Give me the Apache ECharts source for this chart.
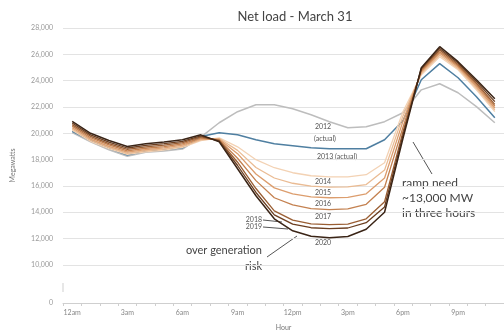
<!DOCTYPE html>
<html><head><meta charset="utf-8">
<script src="https://cdn.jsdelivr.net/npm/echarts@6/dist/echarts.min.js"></script>
<style>html,body{margin:0;padding:0;background:#fff}#c{width:504px;height:336px}</style>
</head><body><div id="c"></div>
<script>
const hours = ['12am','1am','2am','3am','4am','5am','6am','7am','8am','9am','10am','11am','12pm','1pm','2pm','3pm','4pm','5pm','6pm','7pm','8pm','9pm','10pm','11pm'];
const hourTickLabels = ['12am','3am','6am','9am','12pm','3pm','6pm','9pm'];
const yTickValues = [10000,12000,14000,16000,18000,20000,22000,24000,26000,28000];
const yZeroValue = 7100;

const y2012 = [20050,19350,18750,18250,18550,18650,18800,19700,20800,21640,22170,22170,21860,21410,20880,20420,20500,20880,21560,23300,23760,23080,22020,20800];
const y2013 = [20150,19450,18850,18350,18650,18750,18900,19750,20040,19890,19510,19200,19050,18900,18820,18820,18820,19510,20950,24070,25290,24220,22780,21180];
const y2014 = [20230,19390,18840,18390,18590,18720,18930,19440,19650,18970,17990,17380,17000,16770,16690,16690,16850,17760,21640,24450,25820,24830,23310,21640];
const y2015 = [20320,19470,18920,18470,18670,18800,19010,19500,19600,18700,17400,16600,16200,15980,15900,15920,16100,17200,21300,24550,25950,24930,23430,21780];
const y2016 = [20420,19560,19010,18560,18760,18890,19100,19570,19550,18450,16900,15850,15400,15170,15100,15130,15400,16600,20900,24650,26080,25030,23550,21920];
const y2017 = [20540,19660,19110,18660,18860,18990,19190,19640,19500,18100,16400,15100,14550,14280,14200,14250,14600,15900,20450,24750,26200,25130,23680,22060];
const y2018 = [20660,19770,19220,18770,18970,19100,19290,19720,19450,17800,15800,14100,13400,13120,13050,13100,13500,14800,20100,24850,26330,25230,23800,22200];
const y2019 = [20780,19880,19330,18880,19080,19210,19390,19800,19400,17550,15500,13800,13100,12820,12750,12800,13200,14400,19850,24920,26450,25340,23940,22400];
const y2020 = [20900,20000,19450,19000,19200,19330,19500,19880,19350,17300,15250,13500,12590,12170,12050,12150,12700,14000,19600,24980,26580,25440,24070,22620];

const seriesDefs = [
  ['2012', y2012, '#bdbdbd', 1.5],
  ['2013', y2013, '#4f7fa1', 1.5],
  ['2014', y2014, '#f3d2b4', 1.3],
  ['2015', y2015, '#eabb93', 1.3],
  ['2016', y2016, '#dc9d6d', 1.3],
  ['2017', y2017, '#c48150', 1.3],
  ['2018', y2018, '#9a5e33', 1.3],
  ['2019', y2019, '#6b3e20', 1.3],
  ['2020', y2020, '#3a2416', 1.5]
];

const FONT = 'Lato';
const chart = echarts.init(document.getElementById('c'), null, {renderer:'canvas'});
function txt(x, y, s, size, align, color) {
  return {type:'text', x:x, y:y, style:{text:s, fontSize:size, fontFamily:FONT, fill:color||'#555', align:align||'left', verticalAlign:'middle'}};
}
function ln(x1,y1,x2,y2){
  return {type:'line', shape:{x1:x1,y1:y1,x2:x2,y2:y2}, style:{stroke:'#555', lineWidth:1}};
}
chart.setOption({
  animation:false,
  title:{text:'Net load - March 31', left:290, top:5, textAlign:'center',
    textStyle:{fontFamily:FONT, fontSize:13, fontWeight:'normal', color:'#444'}},
  grid:{left:63, top:28, width:447, height:275},
  xAxis:{type:'category', data:hours, boundaryGap:true,
    name:'Hour', nameLocation:'middle', nameGap:21,
    nameTextStyle:{fontFamily:FONT, fontSize:7, color:'#777'},
    axisLine:{lineStyle:{color:'#cfcfcf'}},
    axisTick:{show:true, interval:0, length:3, lineStyle:{color:'#cfcfcf'}},
    axisLabel:{interval:function(i,v){return hourTickLabels.indexOf(v)>=0;}, fontFamily:FONT, fontSize:7, color:'#888', margin:6},
    splitLine:{show:false}},
  yAxis:{type:'value', min:yZeroValue, max:28000,
    name:'Megawatts', nameLocation:'middle', nameGap:47,
    nameTextStyle:{fontFamily:FONT, fontSize:7, color:'#777'},
    axisLine:{show:false},
    axisTick:{show:false, customValues:yTickValues},
    axisLabel:{customValues:[yZeroValue].concat(yTickValues), fontFamily:FONT, fontSize:7, color:'#999', margin:10,
      formatter:function(v){ if (v < 10000) return '0'; return v.toLocaleString('en-US'); }},
    splitLine:{show:true, lineStyle:{color:'#e3e3e3', width:1}}},
  series: seriesDefs.map(function(d){
    return {name:d[0], type:'line', data:d[1], symbol:'none', smooth:false,
      lineStyle:{color:d[2], width:d[3]}};
  }),
  graphic:[
    {type:'line', shape:{x1:63,y1:283,x2:63,y2:292}, style:{stroke:'#cfcfcf', lineWidth:1}},
    txt(323,127,'2012',7,'center'),
    txt(325,139,'(actual)',7,'center'),
    txt(337,157,'2013 (actual)',7,'center'),
    txt(323,182,'2014',7,'center'),
    txt(323,193,'2015',7,'center'),
    txt(323,204,'2016',7,'center'),
    txt(323,217,'2017',7,'center'),
    txt(323,243,'2020',7,'center'),
    txt(262,220,'2018',7,'right'),
    txt(262,227,'2019',7,'right'),
    ln(263,220,282,222), ln(263,227,288,229),
    txt(262,250,'over generation',11,'right','#444'),
    txt(262,266,'risk',11,'right','#444'),
    ln(267,257,297,236),
    txt(402,183,'ramp need',12,'left','#444'),
    txt(402,198,'~13,000 MW',12,'left','#444'),
    txt(402,213,'in three hours',12,'left','#444'),
    ln(413,142,432,174)
  ]
});
</script></body></html>
